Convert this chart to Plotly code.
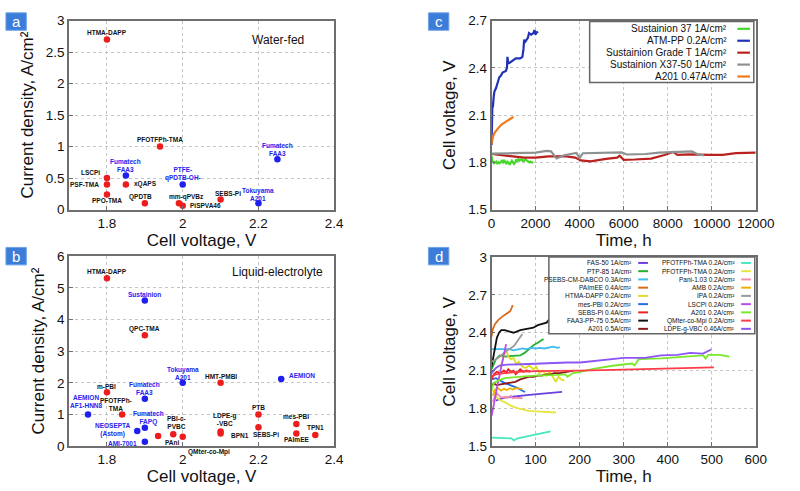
import plotly.graph_objects as go

FONT = "Liberation Sans, Arial, sans-serif"
W, H = 800, 491

# ---------------- Panel a : water-fed ----------------
a_names = ["HTMA-DAPP", "PFOTFPh-TMA", "LSCPi", "PSF-TMA", "PPO-TMA", "xQAPS",
           "Fumatech<br>FAA3", "QPDTB", "mm-qPVBz", "PiSPVA46", "SEBS-Pi",
           "PTFE-<br>qPDTB-OH-", "Tokuyama<br>A201", "Fumatech<br>FAA3"]
a_volt = [1.80, 1.94, 1.80, 1.80, 1.80, 1.85, 1.85, 1.90, 1.99, 2.00, 2.10, 2.00, 2.20, 2.25]
a_curr = [2.70, 1.00, 0.50, 0.40, 0.24, 0.40, 0.54, 0.10, 0.10, 0.06, 0.16, 0.40, 0.10, 0.80]
a_kind = ["r", "r", "r", "r", "r", "r", "b", "r", "r", "r", "r", "b", "b", "b"]

# ---------------- Panel b : liquid electrolyte ----------------
b_names = ["HTMA-DAPP", "Sustainion", "QPC-TMA", "Tokuyama<br>A201", "HMT-PMBI", "m-PBI",
           "Fumatech<br>FAA3", "AEMION<br>AF1-HNN8", "PFOTFPh-<br>TMA", "Fumatech<br>FAPQ",
           "NEOSEPTA<br>(Astom)", "AMI-7001", "PAni", "PBI-c-<br>PVBC", "QMter-co-Mpi",
           "LDPE-g<br>-VBC", "BPN1", "PTB", "SEBS-Pi", "mes-PBI", "PAImEE", "TPN1", "AEMION"]
b_volt = [1.80, 1.90, 1.90, 2.00, 2.10, 1.80, 1.90, 1.75, 1.84, 1.90, 1.88, 1.90, 1.935,
          1.975, 2.00, 2.10, 2.10, 2.20, 2.20, 2.30, 2.30, 2.35, 2.26]
b_curr = [5.30, 4.60, 3.50, 2.00, 2.00, 1.70, 1.50, 1.00, 1.00, 0.58, 0.48, 0.14, 0.32,
          0.38, 0.30, 0.46, 0.40, 1.00, 0.60, 0.70, 0.40, 0.35, 2.12]
b_kind = ["r", "b", "r", "b", "r", "r", "b", "b", "r", "b", "b", "b", "r",
          "r", "r", "r", "r", "r", "r", "r", "r", "r", "b"]

# ---------------- Panel c : long-term durability ----------------
c_labels = ["Sustainion 37 1A/cm²", "ATM-PP 0.2A/cm²",
            "Sustainion Grade T 1A/cm²", "Sustainion X37-50 1A/cm²",
            "A201 0.47A/cm²"]
c_colors = ["#45d62a", "#2132b8", "#b8211e", "#8c9292", "#f27a1a"]

t_sus37 = [0, 30, 80, 120, 170, 220, 270, 320, 370, 420, 470, 520, 570, 620, 670, 720, 770,
           820, 870, 920, 970, 1020, 1070, 1120, 1170, 1220, 1270, 1320, 1370, 1420, 1470,
           1520, 1570, 1620, 1670, 1720, 1770, 1820, 1900]
v_sus37 = [1.84, 1.80, 1.81, 1.795, 1.80, 1.805, 1.79, 1.80, 1.795, 1.80, 1.81, 1.80, 1.815,
           1.80, 1.79, 1.805, 1.80, 1.785, 1.80, 1.81, 1.80, 1.79, 1.80, 1.815, 1.81, 1.82,
           1.81, 1.815, 1.82, 1.81, 1.81, 1.82, 1.815, 1.805, 1.80, 1.80, 1.805, 1.80, 1.80]
t_atm = [0, 20, 40, 60, 100, 130, 200, 250, 350, 420, 500, 650, 700, 720, 760, 800, 1000,
         1100, 1300, 1400, 1450, 1480, 1500, 1550, 1650, 1700, 1800, 1900, 1950, 2000, 2050, 2100]
v_atm = [1.91, 2.00, 2.18, 2.15, 2.22, 2.25, 2.27, 2.29, 2.34, 2.35, 2.37, 2.38, 2.40, 2.47,
         2.43, 2.43, 2.45, 2.46, 2.46, 2.47, 2.52, 2.58, 2.56, 2.57, 2.59, 2.62, 2.61, 2.62,
         2.64, 2.61, 2.63, 2.62]
t_gradeT = [0, 500, 1000, 1500, 2000, 2600, 3400, 3800, 4050, 4500, 5200, 5700, 5820, 6000,
            6500, 7250, 7850, 8200, 8250, 8440, 9000, 9900, 10500, 11100, 12000]
v_gradeT = [1.853, 1.845, 1.838, 1.83, 1.83, 1.838, 1.838, 1.83, 1.812, 1.806, 1.822, 1.83,
            1.842, 1.816, 1.818, 1.824, 1.847, 1.86, 1.866, 1.847, 1.851, 1.847, 1.847, 1.858, 1.862]
t_x37 = [0, 500, 1000, 1500, 2000, 2500, 2700, 2950, 3300, 3850, 4000, 4150, 5000, 5900,
         6150, 7000, 7600, 8400, 9100, 9400, 9650]
v_x37 = [1.855, 1.855, 1.858, 1.86, 1.862, 1.873, 1.87, 1.825, 1.845, 1.86, 1.828, 1.858,
         1.86, 1.863, 1.85, 1.853, 1.862, 1.866, 1.869, 1.848, 1.845]
t_a201c = [0, 30, 80, 150, 250, 350, 450, 550, 650, 750, 850, 950, 1000]
v_a201c = [1.92, 1.95, 1.97, 1.99, 2.01, 2.025, 2.04, 2.05, 2.06, 2.07, 2.075, 2.085, 2.085]
c_t = [t_sus37, t_atm, t_gradeT, t_x37, t_a201c]
c_v = [v_sus37, v_atm, v_gradeT, v_x37, v_a201c]

# ---------------- Panel d : short-term durability ----------------
d_labels = ["FAS-50 1A/cm²", "PTP-85 1A/cm²", "PSEBS-CM-DABCO 0.3A/cm²", "PAImEE 0.4A/cm²",
            "HTMA-DAPP 0.2A/cm²", "mes-PBI 0.2A/cm²", "SEBS-Pi 0.4A/cm²",
            "FAA3-PP-75 0.5A/cm²", "A201 0.5A/cm²",
            "PFOTFPh-TMA 0.2A/cm²", "PFOTFPh-TMA 0.2A/cm²", "Pani-1.03 0.2A/cm²",
            "AMB 0.2A/cm²", "IPA 0.2A/cm²", "LSCPi 0.2A/cm²", "A201 0.2A/cm²",
            "QMter-co-Mpi 0.2A/cm²", "LDPE-g-VBC 0.46A/cm²"]
d_colors = ["#6a3fe0", "#22b030", "#3fbcef", "#d96a1c", "#dede22", "#1f6fe0", "#ee2222",
            "#111111", "#8b1a1a",
            "#45e8c0", "#e6e63c", "#f08cb0", "#f0b000", "#9a9a9a", "#b64fe8", "#7ae82a",
            "#ff3b4a", "#8c55f5"]

t_fas50 = [10, 15, 30, 50, 80, 110, 140, 160]
v_fas50 = [1.86, 1.87, 1.885, 1.895, 1.905, 1.915, 1.925, 1.93]
t_ptp85 = [0, 5, 10, 18, 30, 40, 55, 65, 75, 85, 95, 105, 118]
v_ptp85 = [2.11, 2.15, 2.19, 2.22, 2.21, 2.215, 2.22, 2.22, 2.24, 2.27, 2.30, 2.32, 2.35]
t_psebs = [0, 10, 20, 30, 40, 50, 60, 70, 80, 90, 100, 110, 120, 130, 140, 150, 155]
v_psebs = [2.27, 2.27, 2.265, 2.27, 2.27, 2.26, 2.27, 2.275, 2.27, 2.28, 2.275, 2.28, 2.275,
           2.28, 2.29, 2.28, 2.285]
t_paimee = [0, 3, 8, 15, 25, 35, 42, 46, 48]
v_paimee = [2.37, 2.43, 2.47, 2.50, 2.53, 2.55, 2.57, 2.60, 2.62]
t_htma = [20, 28, 34, 38, 44, 50, 56, 62, 70, 78, 85, 95, 102, 108, 116, 124, 132, 140, 146,
          152, 158, 165]
v_htma = [2.12, 2.22, 2.26, 2.21, 2.19, 2.20, 2.15, 2.17, 2.13, 2.12, 2.14, 2.11, 2.13, 2.08,
          2.10, 2.06, 2.09, 2.04, 2.01, 2.05, 2.03, 2.02]
t_mespbi = [0, 10, 20, 30, 45, 60, 70, 76]
v_mespbi = [2.03, 2.04, 2.02, 2.00, 1.98, 1.96, 1.94, 1.93]
t_sebs = [0, 5, 12, 20, 28, 33, 38, 44, 50, 55, 60, 65, 72, 80, 88]
v_sebs = [2.03, 2.07, 2.09, 2.08, 2.10, 2.08, 2.11, 2.09, 2.10, 2.07, 2.09, 2.11, 2.09, 2.10, 2.09]
t_faa3pp = [0, 4, 8, 12, 17, 22, 30, 40, 50, 65, 80, 95, 105, 115, 125, 132, 140, 150, 160,
            170, 180, 195]
v_faa3pp = [2.13, 2.20, 2.28, 2.36, 2.40, 2.42, 2.42, 2.41, 2.40, 2.42, 2.43, 2.44, 2.46, 2.47,
            2.48, 2.51, 2.50, 2.51, 2.52, 2.52, 2.53, 2.52]
t_a201h = [0, 5, 11, 20, 32, 45, 54, 65, 75, 84, 95, 105, 113, 125, 135, 142, 155, 170, 187]
v_a201h = [1.97, 2.00, 1.985, 1.99, 1.995, 2.00, 2.01, 2.03, 2.04, 2.05, 2.05, 2.06, 2.06,
           2.07, 2.07, 2.08, 2.08, 2.09, 2.10]
t_pfo1 = [0, 15, 30, 45, 51, 58, 70, 84, 95, 106, 120, 134]
v_pfo1 = [1.567, 1.565, 1.568, 1.562, 1.545, 1.56, 1.57, 1.58, 1.585, 1.595, 1.605, 1.618]
t_pfo2 = [2, 8, 14, 22, 32, 44, 54, 65, 84, 100, 120, 146]
v_pfo2 = [1.95, 1.92, 1.88, 1.86, 1.845, 1.82, 1.805, 1.795, 1.78, 1.775, 1.772, 1.767]
t_pani = [3, 8, 12, 17, 22, 30, 38, 44, 48, 55, 62, 70]
v_pani = [1.85, 1.90, 1.92, 1.90, 1.885, 1.89, 1.885, 1.90, 1.88, 1.885, 1.88, 1.88]
t_amb = [3, 8, 15, 22, 28, 35, 42, 48, 55, 62, 70]
v_amb = [1.90, 1.95, 1.96, 1.94, 1.955, 1.945, 1.96, 1.95, 1.96, 1.955, 1.955]
t_ipa = [0, 5, 15, 25, 35, 45, 52, 58, 64, 70]
v_ipa = [2.17, 2.18, 2.20, 2.23, 2.26, 2.28, 2.30, 2.33, 2.36, 2.39]
t_lscpi = [0, 4, 8, 12, 16, 20, 24, 28, 33]
v_lscpi = [1.74, 1.80, 1.88, 1.96, 2.03, 2.10, 2.17, 2.24, 2.31]
t_a201l = [0, 5, 15, 30, 60, 100, 150, 168, 172, 185, 200, 231, 275, 319, 325, 334, 385, 437,
           481, 486, 492, 518, 540]
v_a201l = [1.95, 2.00, 2.02, 2.04, 2.05, 2.06, 2.065, 2.07, 2.05, 2.08, 2.087, 2.113, 2.138,
           2.156, 2.14, 2.19, 2.197, 2.21, 2.22, 2.195, 2.225, 2.225, 2.21]
t_qmter = [0, 10, 30, 60, 100, 150, 200, 275, 350, 422, 505]
v_qmter = [2.05, 2.07, 2.08, 2.09, 2.095, 2.10, 2.10, 2.105, 2.11, 2.118, 2.125]
t_ldpe = [0, 10, 18, 35, 69, 106, 128, 172, 201, 238, 300, 322, 348, 385, 422, 451, 473, 480, 499]
v_ldpe = [2.08, 2.12, 2.14, 2.147, 2.15, 2.156, 2.156, 2.164, 2.164, 2.177, 2.20, 2.20, 2.20,
          2.22, 2.225, 2.24, 2.24, 2.235, 2.267]
d_t = [t_fas50, t_ptp85, t_psebs, t_paimee, t_htma, t_mespbi, t_sebs, t_faa3pp, t_a201h,
       t_pfo1, t_pfo2, t_pani, t_amb, t_ipa, t_lscpi, t_a201l, t_qmter, t_ldpe]
d_v = [v_fas50, v_ptp85, v_psebs, v_paimee, v_htma, v_mespbi, v_sebs, v_faa3pp, v_a201h,
       v_pfo1, v_pfo2, v_pani, v_amb, v_ipa, v_lscpi, v_a201l, v_qmter, v_ldpe]

# ---------------- styling / label placement (layout only) ----------------
RED, BLUE = "#ee1d1d", "#1f1fee"
KIND_COLOR = {"r": RED, "b": BLUE}
TEXT_COLOR = {"r": "#111111", "b": "#2424f0"}
# (xanchor, xshift, yshift)
a_lab = [("center", 0, 7), ("center", 0, 7), ("right", -5, 6), ("right", -6, 0),
         ("center", 0, -6), ("left", 6, 0), ("center", 0, 10), ("center", -4, 6),
         ("center", 8, 6), ("left", 5, 0), ("center", 7, 6), ("center", 0, 10),
         ("center", 0, 9), ("center", 0, 10)]
b_lab = [("center", 0, 7), ("center", 0, 6), ("center", 0, 6.5), ("center", 0, 9),
         ("center", 0, 6.5), ("center", 0, 6), ("center", 0, 10), ("center", -2, 13),
         ("center", -6, 10), ("center", 4, 9.5), ("right", -4, 1), ("right", -6, -2),
         ("left", 5, -6), ("center", 3, 12), ("left", 3, -15), ("center", 4, 12),
         ("left", 8, -2), ("center", 0, 7), ("center", 8, -7), ("center", 0, 7),
         ("center", 0, -6.5), ("center", 0, 7.5), ("left", 6, 4)]

fig = go.Figure()

def px(x):
    return x / W

def py(y):
    return 1 - y / H

# scatter panels
for names, volt, curr, kind, labs, xa, ya in [
        (a_names, a_volt, a_curr, a_kind, a_lab, "x", "y"),
        (b_names, b_volt, b_curr, b_kind, b_lab, "x2", "y2")]:
    fig.add_trace(go.Scatter(x=volt, y=curr, mode="markers", xaxis=xa, yaxis=ya,
                             marker=dict(symbol="circle", size=6.5,
                                         color=[KIND_COLOR[k] for k in kind]),
                             showlegend=False, hoverinfo="skip"))
    for n, v, c, k, (anc, dx, dy) in zip(names, volt, curr, kind, labs):
        fig.add_annotation(x=v, y=c, xref=xa, yref=ya, text=n, showarrow=False,
                           xanchor=anc, yanchor="middle", xshift=dx, yshift=dy,
                           align="center",
                           font=dict(family=FONT, size=6.5, color=TEXT_COLOR[k], weight="bold"))

# line panels
for ts, vs, cols, xa, ya, lw in [(c_t, c_v, c_colors, "x3", "y3", 2.2),
                                 (d_t, d_v, d_colors, "x4", "y4", 1.8)]:
    for i in range(len(ts)):
        fig.add_trace(go.Scatter(x=ts[i], y=vs[i], mode="lines", xaxis=xa, yaxis=ya,
                                 line=dict(color=cols[i], width=lw),
                                 showlegend=False, hoverinfo="skip"))

# axes
def axis_style(title, rng, dtick, domain, anchor, standoff, tickformat=None):
    d = dict(range=rng, dtick=dtick, domain=domain, anchor=anchor,
             showline=True, mirror=True, linecolor="#6e6e6e", linewidth=1.5,
             showgrid=True, gridcolor="#c4c4c4", griddash="dot", gridwidth=1,
             ticks="inside", ticklen=4, tickcolor="#6e6e6e", zeroline=False,
             tickfont=dict(family=FONT, size=13.5, color="#111111"),
             title=dict(text=title, font=dict(family=FONT, size=17, color="#111111"),
                        standoff=standoff))
    if tickformat:
        d["tickformat"] = tickformat
    return d

xa_dom = [px(67), px(340)]
xc_dom = [px(502), px(774)]
ya_dom = [py(209), py(14)]
yb_dom = [py(453), py(257)]
yd_dom = [py(453), py(258)]

fig.update_layout(
    width=W, height=H, margin=dict(l=0, r=0, t=0, b=0),
    plot_bgcolor="white", paper_bgcolor="white", showlegend=False,
    xaxis=axis_style("Cell voltage, V", [1.7, 2.4], 0.2, xa_dom, "y", 3),
    yaxis=axis_style("Current density, A/cm²", [0, 3], 0.5, ya_dom, "x", 8),
    xaxis2=axis_style("Cell voltage, V", [1.7, 2.4], 0.2, xa_dom, "y2", 3),
    yaxis2=axis_style("Current density, A/cm²", [0, 6], 1, yb_dom, "x2", 8),
    xaxis3=axis_style("Time, h", [0, 12000], 2000, xc_dom, "y3", 3, "d"),
    yaxis3=axis_style("Cell voltage, V", [1.5, 2.7], 0.3, ya_dom, "x3", 8),
    xaxis4=axis_style("Time, h", [0, 600], 100, xc_dom, "y4", 3),
    yaxis4=axis_style("Cell voltage, V", [1.5, 3.0], 0.3, yd_dom, "x4", 8),
)
for ax in ["xaxis", "xaxis2"]:
    fig.layout[ax].tick0 = 1.8

# panel captions
fig.add_annotation(xref="paper", yref="paper", x=px(282), y=py(34), text="Water-fed",
                   showarrow=False, xanchor="center", yanchor="middle",
                   font=dict(family=FONT, size=12, color="#111111"))
fig.add_annotation(xref="paper", yref="paper", x=px(282), y=py(273), text="Liquid-electrolyte",
                   showarrow=False, xanchor="center", yanchor="middle",
                   font=dict(family=FONT, size=12, color="#111111"))

# panel letters
for letter, x0, y0 in [("a", 2, 6), ("b", 2, 248), ("c", 437, 6), ("d", 437, 248)]:
    fig.add_shape(type="rect", xref="paper", yref="paper", x0=px(x0), x1=px(x0 + 21),
                  y0=py(y0 + 18), y1=py(y0), fillcolor="#3b7dd8",
                  line=dict(color="#6fa3e8", width=1))
    fig.add_annotation(xref="paper", yref="paper", x=px(x0 + 10.5), y=py(y0 + 9),
                       text=letter, showarrow=False, xanchor="center", yanchor="middle",
                       font=dict(family=FONT, size=15, color="white"))

# custom legends (text right-aligned, swatch on the right)
def legend_box(x0, y0, x1, y1):
    fig.add_shape(type="rect", xref="paper", yref="paper", x0=px(x0), x1=px(x1),
                  y0=py(y1), y1=py(y0), fillcolor="white",
                  line=dict(color="#666666", width=1.5), layer="above")

def legend_entry(text, color, xr, y, l0, l1, size, lw):
    fig.add_annotation(xref="paper", yref="paper", x=px(xr), y=py(y), text=text,
                       showarrow=False, xanchor="right", yanchor="middle",
                       font=dict(family=FONT, size=size, color="#111111"))
    fig.add_shape(type="line", xref="paper", yref="paper", x0=px(l0), x1=px(l1),
                  y0=py(y), y1=py(y), line=dict(color=color, width=lw), layer="above")

legend_box(603, 15, 772, 78)
for i, (lab, col) in enumerate(zip(c_labels, c_colors)):
    legend_entry(lab, col, 746, 22.5 + i * 12.3, 755, 768, 10, 2.2)

legend_box(561, 258, 773, 337)
for i, (lab, col) in enumerate(zip(d_labels, d_colors)):
    row = i % 9
    if i < 9:
        legend_entry(lab, col, 649, 264 + row * 8.5, 653, 663, 6.5, 2)
    else:
        legend_entry(lab, col, 755, 264 + row * 8.5, 759, 769, 6.5, 2)

fig.write_html("out.html", config={"displayModeBar": False},
               post_script="document.body.style.margin='0';document.body.style.overflow='hidden';")
